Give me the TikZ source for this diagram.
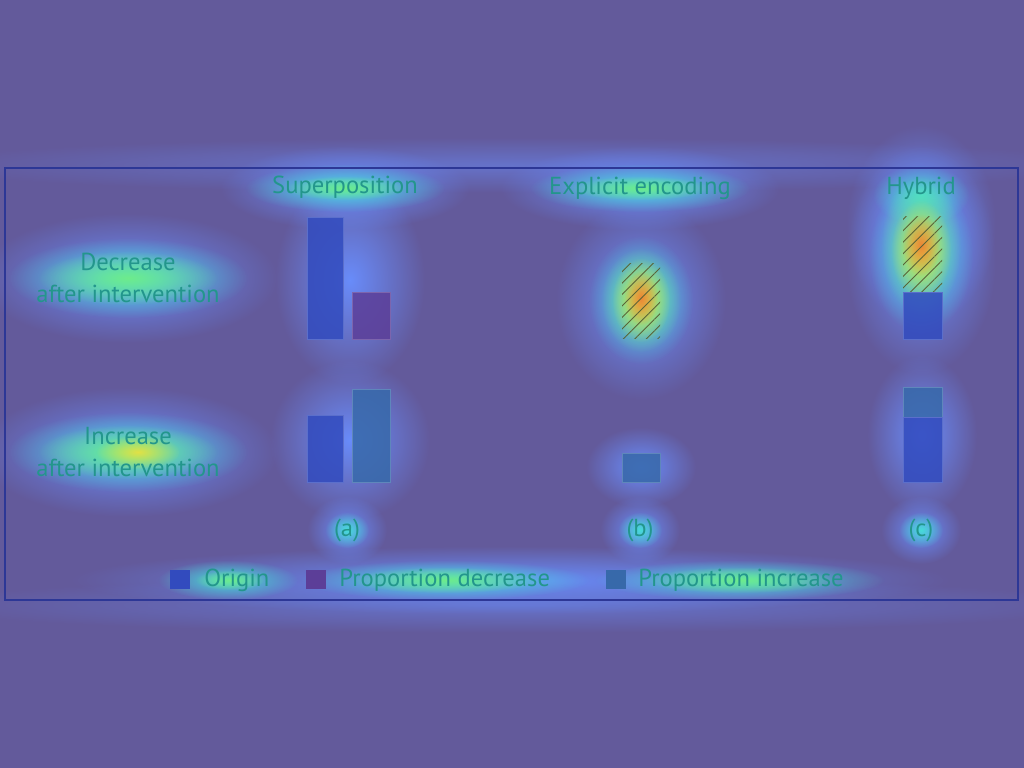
\documentclass[tikz,border=0pt]{standalone}
\usepackage{fontspec}
\setmainfont{PT Sans}
\definecolor{bgpurple}{RGB}{99, 90, 155}
\definecolor{halo}{RGB}{105, 140, 250}
\definecolor{glowcyan}{RGB}{70, 220, 215}
\definecolor{glowgreen}{RGB}{110, 235, 140}
\definecolor{glowyellow}{RGB}{225, 225, 70}
\definecolor{gloworange}{RGB}{235, 135, 55}
\definecolor{labelteal}{RGB}{35, 150, 140}
\definecolor{frameblue}{RGB}{45, 55, 150}
\definecolor{originblue}{RGB}{50, 75, 190}
\definecolor{decpurple}{RGB}{92, 62, 152}
\definecolor{incteal}{RGB}{55, 105, 170}
\definecolor{hatchdark}{RGB}{90, 100, 55}
\usetikzlibrary{positioning, fadings, patterns.meta}
\tikzfading[name=softedge, inner color=transparent!0, outer color=transparent!100]

\begin{document}
\begin{tikzpicture}[x=0.2mm, y=-0.2mm,
    every node/.style={font=\fontsize{14}{18}\selectfont, text=labelteal, inner sep=0pt},
    glow/.style={path fading=softedge},
    bar/.style={draw=#1!80!white, line width=0.4pt, fill=#1, fill opacity=0.85},
    hatched/.style={pattern={Lines[angle=45, distance=4.6pt, line width=0.5pt]}, pattern color=hatchdark, fill opacity=0.7},
    keybox/.style={draw=none, fill=#1, minimum width=4mm, minimum height=3.8mm}]
    \useasboundingbox (0,0) rectangle (1024,768);
    \clip (0,0) rectangle (1024,768);
    \fill [bgpurple] (0,0) rectangle (1024,768);
    % heat map
    \fill [halo, glow, opacity=0.5] (512,165) ellipse [x radius=600, y radius=28];
    \fill [halo, glow, opacity=0.5] (512,605) ellipse [x radius=600, y radius=28];
    \foreach \cx/\cy/\rx/\ry in {345/188/125/42, 640/188/140/42, 921/225/75/100,
        128/278/150/65, 128/452/150/65, 641/300/85/100, 921/260/75/115,
        350/280/75/105, 350/440/80/80, 641/467/55/40, 922/435/55/80,
        347/530/40/34, 640/530/40/34, 921/530/40/34, 510/580/440/34}
        \fill [halo, glow] (\cx,\cy) ellipse [x radius=\rx, y radius=\ry];
    \foreach \cx/\cy/\rx/\ry in {345/188/100/24, 640/188/110/24, 921/195/48/30,
        128/278/120/40, 128/452/120/40, 641/300/52/64, 921/255/52/78,
        347/530/22/18, 640/530/22/18, 921/530/22/18,
        228/580/70/20, 445/580/145/20, 740/580/145/20}
        \fill [glowcyan, glow] (\cx,\cy) ellipse [x radius=\rx, y radius=\ry];
    \foreach \cx/\cy/\rx/\ry in {128/278/90/27, 128/452/90/27, 641/300/40/52, 921/245/40/70,
        345/188/60/12, 640/188/70/12, 230/580/35/10, 445/580/95/13, 740/580/95/13}
        \fill [glowgreen, glow] (\cx,\cy) ellipse [x radius=\rx, y radius=\ry];
    \foreach \cx/\cy/\rx/\ry in {138/452/42/17, 641/300/29/42, 921/250/30/50}
        \fill [glowyellow, glow] (\cx,\cy) ellipse [x radius=\rx, y radius=\ry];
    \foreach \cx/\cy/\rx/\ry in {641/298/17/27, 921/245/19/31}
        \fill [gloworange, glow] (\cx,\cy) ellipse [x radius=\rx, y radius=\ry];

    \draw [frameblue, line width=0.6pt] (5,168) rectangle (1018,600);

    % headers and row labels
    \node (hsup) at (345,187) {Superposition};
    \node (hexp) at (640,188) {Explicit encoding};
    \node (hhyb) at (921,188) {Hybrid};
    \node [align=center] (rdec) at (128,278) {Decrease\\after intervention};
    \node [align=center] (rinc) at (128,452) {Increase\\after intervention};

    % (a) superposition
    \draw [bar=originblue] (307,217) rectangle (343,339);
    \draw [bar=decpurple] (352,292) rectangle (390,339);
    \draw [bar=originblue] (307,415) rectangle (343,482);
    \draw [bar=incteal] (352,389) rectangle (390,482);
    % (b) explicit encoding
    \fill [hatched] (622,264) rectangle (660,339);
    \draw [bar=incteal] (622,453) rectangle (660,482);
    % (c) hybrid
    \fill [hatched] (903,217) rectangle (942,292);
    \draw [bar=originblue] (903,292) rectangle (942,339);
    \draw [bar=incteal] (903,387) rectangle (942,417);
    \draw [bar=originblue] (903,417) rectangle (942,482);

    \node (la) at (347,530) {(a)};
    \node (lb) at (640,530) {(b)};
    \node (lc) at (921,530) {(c)};

    % legend
    \node [keybox=originblue] (korig) at (180,580) {};
    \node [anchor=west] (torig) at (204,580) {Origin};
    \node [keybox=decpurple] (kdec) at (316,580) {};
    \node [anchor=west] (tdec) at (339,580) {Proportion decrease};
    \node [keybox=incteal] (kinc) at (616,580) {};
    \node [anchor=west] (tinc) at (638,580) {Proportion increase};
\end{tikzpicture}
\end{document}
